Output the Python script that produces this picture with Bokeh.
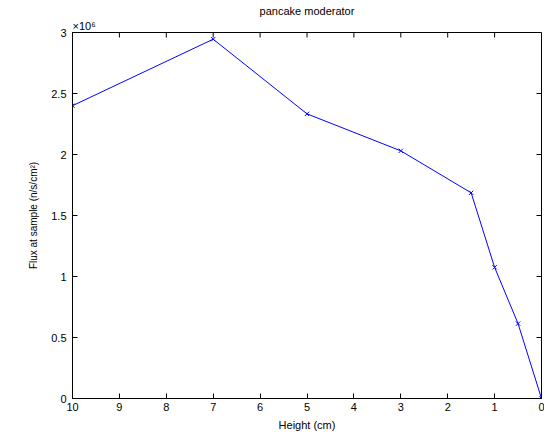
from bokeh.plotting import figure
from bokeh.models import Range1d, FixedTicker, CustomJSTickFormatter, Title
from bokeh.embed import file_html
from bokeh.resources import INLINE
import math

heights = [10, 7, 5, 3, 1.5, 1, 0.5, 0]
flux = [2.40e6, 2.945e6, 2.333e6, 2.03e6, 1.686e6, 1.075e6, 0.614e6, 0.0]
x_ticks = [0, 1, 2, 3, 4, 5, 6, 7, 8, 9, 10]
y_ticks = [0, 0.5e6, 1.0e6, 1.5e6, 2.0e6, 2.5e6, 3.0e6]

FONT = "Liberation Sans"
W, H = 544, 434
BL, BR, BT, BB = 72, 3, 32, 36
FW = W - BL - BR
FH = H - BT - BB
X0, X1 = 10, 0
Y0, Y1 = 0, 3e6
TICK = 5

p = figure(width=W, height=H, output_backend="svg", toolbar_location=None,
           x_range=Range1d(X0, X1), y_range=Range1d(Y0, Y1),
           title="pancake moderator",
           min_border_left=BL, min_border_right=BR, min_border_top=BT, min_border_bottom=BB)
p.background_fill_color = "white"
p.border_fill_color = "white"
p.outline_line_color = "black"
p.grid.visible = False

p.title.align = "center"
p.title.text_font = FONT
p.title.text_font_size = "11px"
p.title.text_font_style = "normal"
p.title.text_color = "black"
p.title.offset = 0
p.title.standoff = 0

exp_title = Title(text="×10⁶", align="left", text_font=FONT, text_font_size="11px",
                  text_font_style="normal", text_color="black", standoff=2, offset=0)
p.add_layout(exp_title, "above")

fmt = CustomJSTickFormatter(code="return String(Math.round(tick/1e5)/10);")

for ax in (p.xaxis[0], p.yaxis[0]):
    ax.major_tick_in = TICK
    ax.major_tick_out = 0
    ax.minor_tick_in = 0
    ax.minor_tick_out = 0
    ax.axis_line_color = "black"
    ax.major_tick_line_color = "black"
    ax.major_label_text_font = FONT
    ax.major_label_text_font_size = "11px"
    ax.major_label_text_color = "black"
    ax.axis_label_text_font = FONT
    ax.axis_label_text_font_size = "10px"
    ax.axis_label_text_font_style = "normal"
    ax.axis_label_text_color = "black"

p.xaxis.ticker = FixedTicker(ticks=x_ticks)
p.yaxis.ticker = FixedTicker(ticks=y_ticks)
p.yaxis.formatter = fmt
p.xaxis.axis_label = "Height (cm)"
p.xaxis.axis_label_text_font_size = "11px"
p.yaxis.axis_label = "Flux at sample (n/s/cm²)"
p.xaxis.major_label_standoff = 4
p.yaxis.major_label_standoff = 6
p.xaxis.axis_label_standoff = 5
p.yaxis.axis_label_standoff = 9

# inward tick marks on the top and right edges of the box, drawn as short dashes
# centred half a tick length inside the frame
half_dy = 0.5 * TICK * (Y1 - Y0) / FH
half_dx = 0.5 * TICK * (X0 - X1) / FW
top_y = [Y1 - half_dy for _ in x_ticks]
right_x = [X1 + half_dx for _ in y_ticks]
p.scatter(x=list(x_ticks), y=top_y, marker="dash", angle=math.pi / 2, size=TICK,
          line_color="black", line_width=1)
p.scatter(x=right_x, y=list(y_ticks), marker="dash", size=TICK,
          line_color="black", line_width=1)

p.line(heights, flux, line_color="#0000ff", line_width=1)
p.scatter(heights, flux, marker="x", size=6, line_color="#0000ff", line_width=1)

open("out.html", "w").write(file_html(p, INLINE))
